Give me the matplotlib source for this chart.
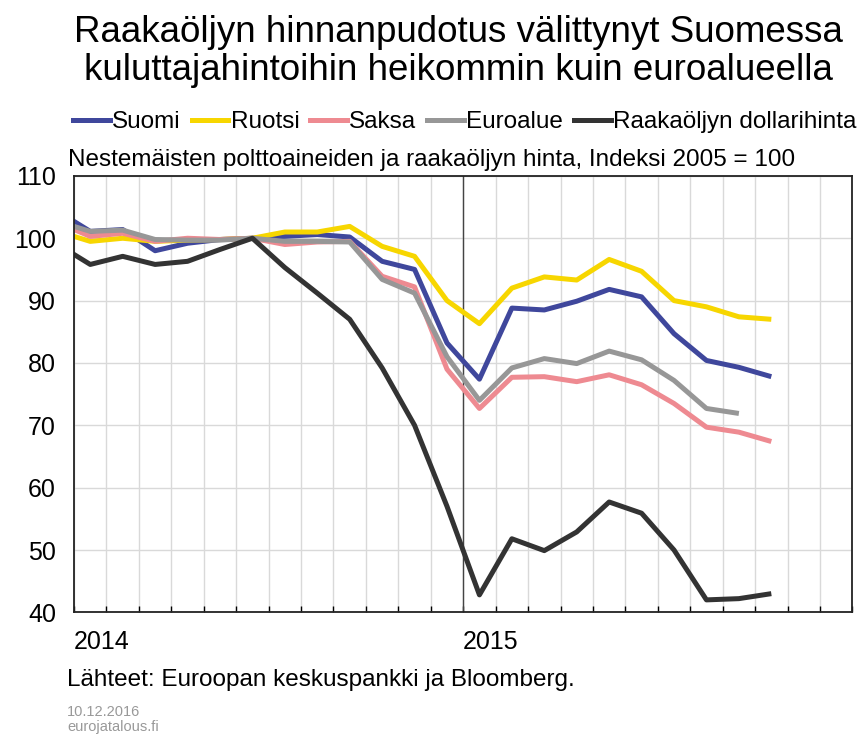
import numpy as np
import matplotlib
matplotlib.use('Agg')
import matplotlib.pyplot as plt
from matplotlib.lines import Line2D

plt.rcParams['font.family'] = ['Liberation Sans', 'DejaVu Sans']

# kuukaudet 12/2013 - 10/2015
months = ['2013-12', '2014-01', '2014-02', '2014-03', '2014-04', '2014-05', '2014-06',
          '2014-07', '2014-08', '2014-09', '2014-10', '2014-11', '2014-12',
          '2015-01', '2015-02', '2015-03', '2015-04', '2015-05', '2015-06',
          '2015-07', '2015-08', '2015-09', '2015-10']
suomi = [104.3, 101.1, 101.4, 98.0, 99.2, 99.8, 100.0, 100.3, 100.6, 100.2, 96.3, 95.0,
         83.2, 77.4, 88.8, 88.5, 89.9, 91.8, 90.6, 84.7, 80.4, 79.3, 77.8]
ruotsi = [101.1, 99.5, 100.0, 99.5, 99.7, 99.8, 100.0, 101.0, 101.0, 101.9, 98.7, 97.1,
          90.0, 86.3, 92.0, 93.8, 93.3, 96.6, 94.7, 90.0, 89.0, 87.4, 87.0]
saksa = [102.5, 100.3, 100.8, 99.5, 100.0, 99.8, 100.0, 99.0, 99.4, 99.5, 93.9, 92.2,
         79.0, 72.7, 77.7, 77.8, 77.0, 78.1, 76.5, 73.5, 69.7, 68.9, 67.4]
euroalue = [102.7, 101.1, 101.3, 99.8, 99.7, 99.7, 100.0, 99.5, 99.5, 99.4, 93.4, 91.2,
            81.0, 74.0, 79.2, 80.7, 79.9, 81.9, 80.5, 77.2, 72.7, 71.9, np.nan]
oljy = [99.0, 95.8, 97.1, 95.8, 96.3, 98.2, 100.0, 95.3, 91.2, 87.0, 79.2, 70.0,
        57.0, 42.8, 51.8, 49.9, 52.9, 57.7, 55.9, 50.0, 42.0, 42.2, 43.0]

series = [('Suomi', suomi, '#3f479c'),
          ('Ruotsi', ruotsi, '#f7d600'),
          ('Saksa', saksa, '#ee8a91'),
          ('Euroalue', euroalue, '#979797'),
          ('Raakaöljyn dollarihinta', oljy, '#333333')]

# x: kuukauden keskikohta, 0 = tammikuun 2014 alku
x = np.arange(len(months)) - 0.5

fig = plt.figure(figsize=(8.61, 7.36), dpi=100)
ax = fig.add_axes([0.086, 0.168, 0.904, 0.593])

for name, vals, col in series:
    ax.plot(x, vals, color=col, lw=3.6, solid_capstyle='butt', label=name)

ax.axvline(12, color='#444444', lw=1.0, zorder=1)

ax.set_xlim(0, 24)
ax.set_ylim(40, 110)
ax.set_yticks(range(40, 111, 10))
ax.set_xticks(range(25))
xlabels = [''] * 25
xlabels[0] = '2014'
xlabels[12] = '2015'
ax.set_xticklabels(xlabels, ha='left')
ax.tick_params(axis='x', direction='in', length=4, width=1, pad=13, labelsize=18)
ax.tick_params(axis='y', length=0, pad=13, labelsize=18)
ax.grid(True, color='#d9d9d9', lw=1)
ax.set_axisbelow(True)
for s in ax.spines.values():
    s.set_color('#222222')
    s.set_linewidth(1.3)

handles = [Line2D([], [], color=c, lw=3.6) for _, _, c in series]
fig.legend(handles, [n for n, _, _ in series], ncol=5, loc='center',
           bbox_to_anchor=(0.54, 0.834), frameon=False, fontsize=17.5,
           handlelength=1.5, handletextpad=0.1, columnspacing=0.45)

fig.text(0.532, 0.93, 'Raakaöljyn hinnanpudotus välittynyt Suomessa\n'
         'kuluttajahintoihin heikommin kuin euroalueella',
         ha='center', va='center', fontsize=26.5, linespacing=1.08)
fig.text(0.079, 0.783, 'Nestemäisten polttoaineiden ja raakaöljyn hinta, Indeksi 2005 = 100',
         ha='left', va='center', fontsize=17.5)
fig.text(0.078, 0.076, 'Lähteet: Euroopan keskuspankki ja Bloomberg.',
         ha='left', va='center', fontsize=17.5)
fig.text(0.078, 0.033, '10.12.2016', ha='left', va='center', fontsize=10.5, color='#999999')
fig.text(0.078, 0.012, 'eurojatalous.fi', ha='left', va='center', fontsize=10.5, color='#999999')

fig.savefig('out.png', dpi=100)
